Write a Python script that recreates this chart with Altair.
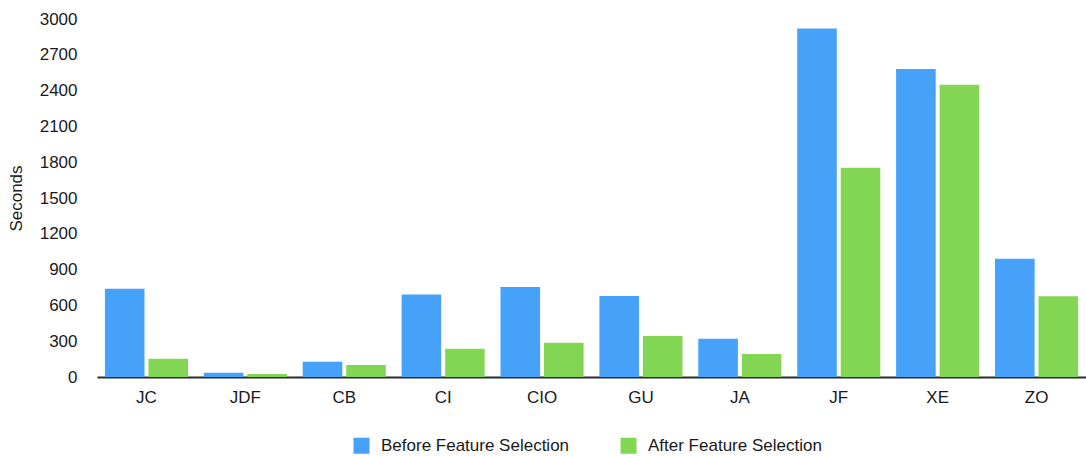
import altair as alt
import pandas as pd

# Runtime per dataset, before and after feature selection (seconds)
datasets = ["JC", "JDF", "CB", "CI", "CIO", "GU", "JA", "JF", "XE", "ZO"]
before_fs = [740, 36, 128, 692, 754, 679, 321, 2920, 2582, 991]
after_fs = [153, 25, 100, 237, 287, 344, 193, 1754, 2450, 676]
series = ["Before Feature Selection", "After Feature Selection"]
colors = ["#45a2f8", "#82d653"]
y_ticks = list(range(0, 3001, 300))

rows = []
for i, d in enumerate(datasets):
    rows.append({"dataset": d, "phase": series[0], "seconds": before_fs[i]})
    rows.append({"dataset": d, "phase": series[1], "seconds": after_fs[i]})
df = pd.DataFrame(rows)

FONT = "Liberation Sans"
FS = 17

chart = (
    alt.Chart(df)
    .mark_bar()
    .encode(
        x=alt.X(
            "dataset:N",
            sort=datasets,
            title=None,
            scale=alt.Scale(paddingInner=0.16, paddingOuter=0.08),
            axis=alt.Axis(
                labelAngle=0,
                ticks=False,
                domainColor="#2b2b2b",
                domainWidth=2,
                labelPadding=12,
                labelFontSize=FS,
                labelColor="#1a1a1a",
            ),
        ),
        xOffset=alt.XOffset(
            "phase:N", sort=series, scale=alt.Scale(paddingInner=0.09, paddingOuter=0)
        ),
        y=alt.Y(
            "seconds:Q",
            title="Seconds",
            scale=alt.Scale(domain=[0, 3000], nice=False),
            axis=alt.Axis(
                values=y_ticks,
                format="d",
                grid=False,
                domain=False,
                ticks=False,
                labelPadding=20,
                labelFontSize=FS,
                labelColor="#1a1a1a",
                titleFontSize=FS,
                titleFontWeight="normal",
                titleColor="#1a1a1a",
                titleX=-72,
                titleY=179,
                titleAngle=270,
                titleBaseline="bottom",
            ),
        ),
        color=alt.Color(
            "phase:N",
            sort=series,
            scale=alt.Scale(domain=series, range=colors),
            legend=alt.Legend(
                title=None,
                orient="none",
                direction="horizontal",
                legendX=256,
                legendY=418,
                symbolType="square",
                symbolSize=256,
                symbolStrokeWidth=0,
                symbolOpacity=1,
                labelFontSize=FS,
                labelColor="#1a1a1a",
                labelOffset=11,
                labelLimit=400,
                columnPadding=50,
                padding=0,
            ),
        ),
    )
    .properties(
        width=989,
        height=358,
        autosize=alt.AutoSizeParams(type="none"),
        padding={"left": 97, "top": 19, "right": 0, "bottom": 79},
    )
    .configure(font=FONT)
    .configure_view(stroke=None)
)

chart.save("out.html", embed_options={"renderer": "svg", "actions": False})
